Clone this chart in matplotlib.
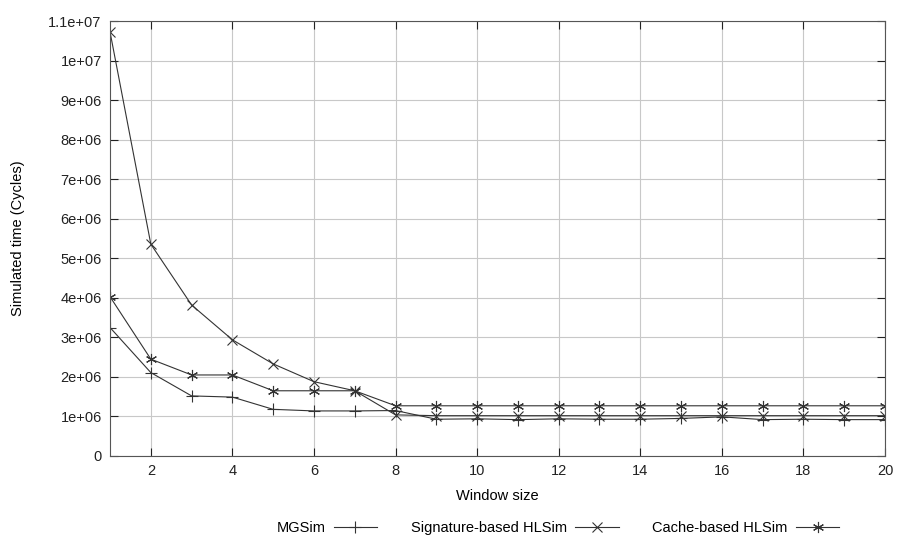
import matplotlib
matplotlib.use('Agg')
import matplotlib.pyplot as plt

plt.rcParams['font.family'] = ['Liberation Sans', 'DejaVu Sans']

window = list(range(1, 21))
mgsim = [3.25e6, 2.11e6, 1.52e6, 1.49e6, 1.18e6, 1.14e6, 1.14e6, 1.15e6,
         0.93e6, 0.94e6, 0.92e6, 0.94e6, 0.93e6, 0.93e6, 0.95e6, 0.99e6,
         0.92e6, 0.93e6, 0.92e6, 0.92e6]
signature = [10.73e6, 5.36e6, 3.82e6, 2.94e6, 2.33e6, 1.88e6, 1.65e6, 1.04e6,
             1.02e6, 1.02e6, 1.02e6, 1.02e6, 1.02e6, 1.02e6, 1.02e6, 1.02e6,
             1.02e6, 1.02e6, 1.02e6, 1.02e6]
cache = [4.03e6, 2.45e6, 2.05e6, 2.05e6, 1.65e6, 1.65e6, 1.65e6, 1.27e6,
         1.27e6, 1.27e6, 1.27e6, 1.27e6, 1.27e6, 1.27e6, 1.27e6, 1.27e6,
         1.27e6, 1.27e6, 1.27e6, 1.27e6]
series_names = ['MGSim', 'Signature-based HLSim', 'Cache-based HLSim']

xticks = list(range(2, 21, 2))
yticks = [i * 1e6 for i in range(0, 12)]
ytick_labels = ['0', '1e+06', '2e+06', '3e+06', '4e+06', '5e+06', '6e+06',
                '7e+06', '8e+06', '9e+06', '1e+07', '1.1e+07']

fig = plt.figure(figsize=(8.99, 5.4), dpi=100)
ax = fig.add_axes([0.1224, 0.1556, 0.862, 0.805])

col = '#333333'
ax.plot(window, mgsim, color=col, lw=0.8, marker='+', ms=8, mew=0.8, label=series_names[0])
ax.plot(window, signature, color=col, lw=0.8, marker='x', ms=7, mew=0.8, label=series_names[1])
ax.plot(window, cache, color=col, lw=0.8, marker=(6, 2, 0), ms=8, mew=0.8, label=series_names[2])

ax.set_xlim(1, 20)
ax.set_ylim(0, 1.1e7)
ax.set_xticks(xticks)
ax.set_yticks(yticks)
ax.set_yticklabels(ytick_labels)
ax.grid(True, color='#c8c8c8', lw=0.8)
ax.tick_params(direction='in', length=6, width=0.8, top=True, right=True,
               labelsize=10.5, colors='#222222', pad=6)
for s in ax.spines.values():
    s.set_color('#555555')
    s.set_linewidth(0.8)

ax.set_xlabel('Window size', fontsize=10.5, labelpad=8)
ax.set_ylabel('Simulated time (Cycles)', fontsize=10.5, labelpad=17)

ax.legend(loc='center', bbox_to_anchor=(0.578, -0.165), ncol=3, frameon=False,
          markerfirst=False, fontsize=10.5, handlelength=3.0, columnspacing=2.3,
          handletextpad=0.55, borderaxespad=0)

fig.savefig('out.png', dpi=100)
